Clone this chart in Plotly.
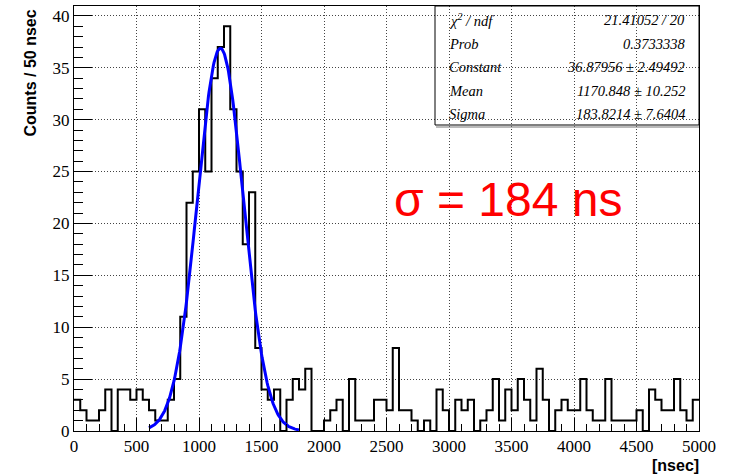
import plotly.graph_objects as go
import math

# Histogram: 100 bins of 50 nsec from 0 to 5000
bin_width = 50
counts = [3, 2, 1, 1, 2, 4, 0, 4, 4, 3,
          4, 3, 2, 1, 1, 3, 5, 11, 22, 25,
          31, 25, 34, 37, 39, 31, 25, 18, 23, 8,
          4, 3, 4, 0, 3, 5, 4, 6, 0, 0,
          1, 2, 3, 0, 5, 1, 1, 1, 3, 3,
          2, 8, 2, 2, 1, 0, 1, 0, 4, 2,
          0, 3, 2, 3, 0, 1, 2, 5, 1, 4,
          2, 5, 3, 1, 6, 3, 0, 2, 3, 2,
          2, 5, 2, 1, 1, 5, 1, 1, 1, 1,
          2, 0, 4, 3, 2, 2, 5, 2, 1, 3]
edges = [i * bin_width for i in range(len(counts) + 1)]

# Gaussian fit parameters (from stats box)
fit_const = 36.87956
fit_mean = 1170.848
fit_sigma = 183.8214
fit_range = (600, 1800)

stats_labels = ["χ<sup>2</sup> / ndf", "Prob", "Constant", "Mean", "Sigma"]
stats_values = ["21.41052 / 20", "0.3733338", "36.87956 ± 2.49492",
                "1170.848 ± 10.252", "183.8214 ± 7.6404"]

n_fit = 241
fit_x = [fit_range[0] + (fit_range[1] - fit_range[0]) * i / (n_fit - 1) for i in range(n_fit)]
fit_y = [fit_const * math.exp(-0.5 * ((x - fit_mean) / fit_sigma) ** 2) for x in fit_x]

fig = go.Figure()
fig.add_trace(go.Scatter(x=edges, y=counts + [counts[-1]], mode="lines",
                         line=dict(shape="hv", color="black", width=2),
                         hoverinfo="skip", showlegend=False))
fig.add_trace(go.Scatter(x=fit_x, y=fit_y, mode="lines",
                         line=dict(color="#0000ff", width=3),
                         showlegend=False))

W, H = 729, 476
ml, mr, mt, mb = 74, 30, 6, 45
pw, ph = W - ml - mr, H - mt - mb

def px2py(y):
    return (H - mb - y) / ph

def px2px(x):
    return (x - ml) / pw

tickfont = dict(family="Liberation Serif", size=17, color="black")
fig.update_xaxes(range=[0, 5000], dtick=500, tick0=0, ticks="inside", ticklen=13,
                 tickcolor="black", showline=True, linecolor="black", linewidth=1,
                 mirror=True, showgrid=True, gridcolor="#444", griddash="1px,2px", gridwidth=1,
                 zeroline=False, tickfont=tickfont,
                 minor=dict(dtick=100, ticks="inside", ticklen=7, tickcolor="black", showgrid=False))
fig.update_yaxes(range=[0, 40.95], dtick=5, tick0=0, ticks="inside", ticklen=18,
                 tickcolor="black", showline=True, linecolor="black", linewidth=1,
                 mirror=True, showgrid=True, gridcolor="#444", griddash="1px,2px", gridwidth=1,
                 zeroline=False, tickfont=tickfont,
                 minor=dict(dtick=1, ticks="inside", ticklen=9, tickcolor="black", showgrid=False))

annotations = []
annotations.append(dict(text="<b>Counts / 50 nsec</b>", xref="paper", yref="paper",
                        x=px2px(30), y=px2py(8), xanchor="center", yanchor="top",
                        textangle=-90, showarrow=False,
                        font=dict(family="Liberation Sans", size=16, color="black")))
annotations.append(dict(text="<b>[nsec]</b>", xref="paper", yref="paper",
                        x=px2px(701), y=px2py(465), xanchor="right", yanchor="middle",
                        showarrow=False,
                        font=dict(family="Liberation Sans", size=16, color="black")))
annotations.append(dict(text="σ = 184 ns", xref="paper", yref="paper",
                        x=px2px(508), y=px2py(199), xanchor="center", yanchor="middle",
                        showarrow=False,
                        font=dict(family="Liberation Sans", size=48, color="#ff0000")))
row_y = [20, 43.5, 67, 90.5, 114]
sfont = dict(family="Liberation Serif", size=14.5, color="black", style="italic")
for lab, val, ry in zip(stats_labels, stats_values, row_y):
    annotations.append(dict(text=lab, xref="paper", yref="paper", x=px2px(447), y=px2py(ry),
                            xanchor="left", yanchor="middle", showarrow=False, font=sfont))
    annotations.append(dict(text=val, xref="paper", yref="paper", x=px2px(687), y=px2py(ry),
                            xanchor="right", yanchor="middle", showarrow=False, font=sfont))

shapes = [
    dict(type="rect", xref="paper", yref="paper", x0=px2px(435), x1=1.0,
         y0=px2py(125), y1=1.0, line=dict(color="black", width=1), fillcolor="rgba(0,0,0,0)"),
    dict(type="line", xref="paper", yref="paper", x0=px2px(436), x1=1.0,
         y0=px2py(127), y1=px2py(127), line=dict(color="#777", width=1)),
]

fig.update_layout(width=W, height=H, margin=dict(l=ml, r=mr, t=mt, b=mb),
                  paper_bgcolor="white", plot_bgcolor="white",
                  annotations=annotations, shapes=shapes, showlegend=False)

fig.write_html("out.html", config={"displayModeBar": False},
               post_script="document.body.style.margin='0';document.body.style.overflow='hidden';")
